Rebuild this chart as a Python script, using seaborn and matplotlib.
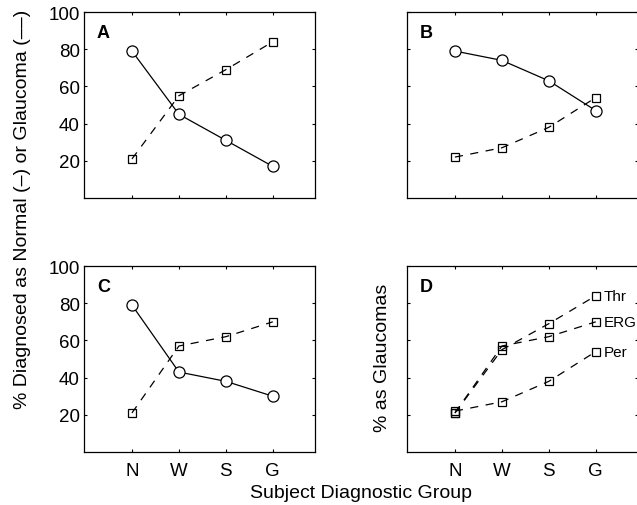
import matplotlib
matplotlib.use("Agg")
import matplotlib.pyplot as plt
import pandas as pd
import seaborn as sns

groups = ["N", "W", "S", "G"]
group_pos = [1, 2, 3, 4]

# percent diagnosed as normal (circles, solid) / glaucoma (squares, dashed)
normal_a = [79, 45, 31, 17]
glaucoma_a = [21, 55, 69, 84]
normal_b = [79, 74, 63, 47]
glaucoma_b = [22, 27, 38, 54]
normal_c = [79, 43, 38, 30]
glaucoma_c = [21, 57, 62, 70]

# panel D: glaucoma calls by test
test_names = ["Thr", "ERG", "Per"]
glaucoma_thr = [21, 55, 69, 84]
glaucoma_erg = [21, 57, 62, 70]
glaucoma_per = [22, 27, 38, 54]

yticks = [20, 40, 60, 80, 100]

sns.set_theme(style="ticks")
plt.rcParams["font.family"] = ["Liberation Sans", "DejaVu Sans"]
plt.rcParams["text.color"] = "black"
plt.rcParams["xtick.direction"] = "in"
plt.rcParams["ytick.direction"] = "in"
plt.rcParams["xtick.top"] = True
plt.rcParams["ytick.right"] = True
plt.rcParams["axes.linewidth"] = 0.9

fig = plt.figure(figsize=(6.37, 5.06), dpi=100)
w, h = 0.3626, 0.3676
pos = {
    "A": [0.132, 0.6067, w, h],
    "B": [0.639, 0.6067, w, h],
    "C": [0.132, 0.1047, w, h],
    "D": [0.639, 0.1047, w, h],
}
axes = {k: fig.add_axes(v) for k, v in pos.items()}

dash = (6.5, 6)


def draw(ax, values, kind):
    df = pd.DataFrame({"x": group_pos, "y": values})
    if kind == "normal":
        sns.lineplot(data=df, x="x", y="y", ax=ax, color="black", lw=0.9,
                     marker="o", markersize=8, markerfacecolor="white",
                     markeredgecolor="black", markeredgewidth=0.9)
    else:
        line = sns.lineplot(data=df, x="x", y="y", ax=ax, color="black", lw=0.9,
                            marker="s", markersize=6, markerfacecolor="none",
                            markeredgecolor="black", markeredgewidth=0.9)
        line.lines[-1].set_dashes(dash)


draw(axes["A"], glaucoma_a, "glaucoma")
draw(axes["A"], normal_a, "normal")
draw(axes["B"], glaucoma_b, "glaucoma")
draw(axes["B"], normal_b, "normal")
draw(axes["C"], glaucoma_c, "glaucoma")
draw(axes["C"], normal_c, "normal")
for vals in (glaucoma_thr, glaucoma_erg, glaucoma_per):
    draw(axes["D"], vals, "glaucoma")

for name, vals in zip(test_names, (glaucoma_thr, glaucoma_erg, glaucoma_per)):
    axes["D"].text(4.16, vals[-1], name, fontsize=11, va="center", ha="left")

for key, ax in axes.items():
    ax.set_xlim(-0.02, 4.9)
    ax.set_ylim(0, 100)
    ax.set_xticks(group_pos)
    ax.set_yticks(yticks)
    ax.tick_params(length=2.5, width=0.8, labelsize=13.5, pad=3, colors="black")
    ax.set_xlabel("")
    ax.set_ylabel("")
    if key in ("A", "B"):
        ax.set_xticklabels([])
    else:
        ax.set_xticklabels(groups)
        ax.tick_params(axis="x", pad=7)
    if key in ("B", "D"):
        ax.set_yticklabels([])
    ax.text(0.055, 0.89, key, transform=ax.transAxes, fontsize=13,
            fontweight="bold", ha="left", va="center")
    for sp in ax.spines.values():
        sp.set_color("black")

fig.text(0.035, 0.587, "% Diagnosed as Normal (\u2013) or Glaucoma (\u2013\u2013)",
         rotation=90, ha="center", va="center", fontsize=14)
fig.text(0.6, 0.292, "% as Glaucomas", rotation=90, ha="center", va="center",
         fontsize=14)
fig.text(0.567, 0.024, "Subject Diagnostic Group", ha="center", va="center",
         fontsize=14)

fig.savefig("out.png", dpi=100)
